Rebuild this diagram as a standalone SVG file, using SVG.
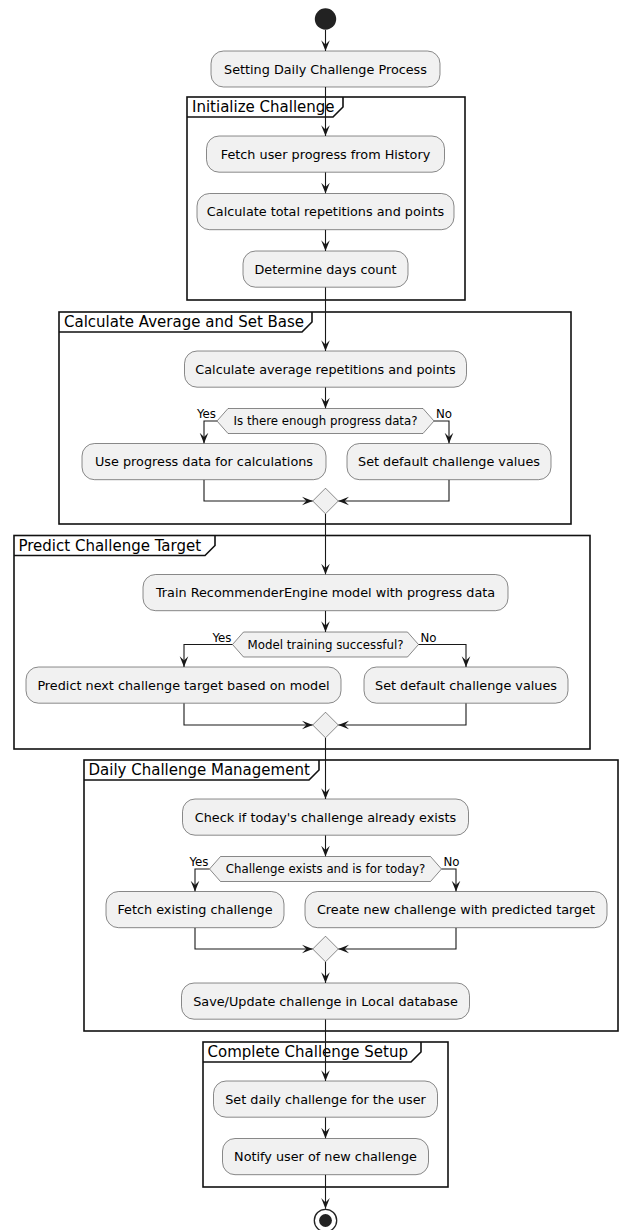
<svg xmlns="http://www.w3.org/2000/svg" width="619" height="1230" viewBox="0 0 619 1230">
<style>
.box{fill:#F1F1F1;stroke:#181818;stroke-width:0.5}
.hex{fill:#F1F1F1;stroke:#181818;stroke-width:0.5}
.frame{fill:none;stroke:#111;stroke-width:1.6}
.t{font-family:"DejaVu Sans",sans-serif;font-size:12.8px;fill:#000;text-anchor:middle}
.dt{font-family:"DejaVu Sans",sans-serif;font-size:11.8px;fill:#000;text-anchor:middle}
.lbl{font-family:"DejaVu Sans",sans-serif;font-size:11.8px;fill:#000}
.ft{font-family:"DejaVu Sans",sans-serif;font-size:15px;fill:#000}
.c{fill:none;stroke:#181818;stroke-width:1.1;marker-end:url(#ah)}
</style>
<defs>
<marker id="ah" markerUnits="userSpaceOnUse" viewBox="-11 -5 12 10" refX="0" refY="0" markerWidth="12" markerHeight="10" orient="auto">
<path d="M0,0 L-10.7,-4.3 L-6.4,0 L-10.7,4.3 Z" fill="#181818"/>
</marker>
</defs>

<g id="frames">
<g id="p1"><rect class="frame" x="187" y="97" width="278" height="203"/><path class="frame" d="M187,117 H333 L343,107 V97"/><text class="ft" x="192" y="112">Initialize Challenge</text></g>
<g id="p2"><rect class="frame" x="59" y="312" width="512" height="212"/><path class="frame" d="M59,332 H302 L312,322 V312"/><text class="ft" x="64" y="327">Calculate Average and Set Base</text></g>
<g id="p3"><rect class="frame" x="14" y="535.5" width="576" height="213.5"/><path class="frame" d="M14,555.5 H205 L215,545.5 V535.5"/><text class="ft" x="18.5" y="550.5">Predict Challenge Target</text></g>
<g id="p4"><rect class="frame" x="84" y="760" width="534" height="271"/><path class="frame" d="M84,780 H309 L319,770 V760"/><text class="ft" x="88.5" y="775">Daily Challenge Management</text></g>
<g id="p5"><rect class="frame" x="203" y="1042" width="245" height="145"/><path class="frame" d="M203,1062 H411 L421,1052 V1042"/><text class="ft" x="207.5" y="1057">Complete Challenge Setup</text></g>
</g>

<g id="connectors">
<path class="c" d="M325.5,30 V51"/>
<path class="c" d="M325.5,87 V136"/>
<path class="c" d="M325.5,172.2 V193.5"/>
<path class="c" d="M325.5,229.7 V251"/>
<path class="c" d="M325.5,287.2 V351"/>
<path class="c" d="M325.5,387.2 V408.5"/>
<path class="c" d="M217,421 H204 V443.5"/>
<path class="c" d="M434,421 H449 V443.5"/>
<path class="c" d="M204,479.7 V501 H312.7"/>
<path class="c" d="M449,479.7 V501 H338.3"/>
<path class="c" d="M325.5,513.8 V574.5"/>
<path class="c" d="M325.5,610.7 V632"/>
<path class="c" d="M232.5,644.5 H184 V667"/>
<path class="c" d="M418.5,644.5 H466 V667"/>
<path class="c" d="M184,703.2 V725 H312.7"/>
<path class="c" d="M466,703.2 V725 H338.3"/>
<path class="c" d="M325.5,737.8 V799"/>
<path class="c" d="M325.5,835.2 V856.5"/>
<path class="c" d="M209.5,869 H195 V891.5"/>
<path class="c" d="M441.5,869 H456 V891.5"/>
<path class="c" d="M195,927.7 V949 H312.7"/>
<path class="c" d="M456,927.7 V949 H338.3"/>
<path class="c" d="M325.5,961.8 V983"/>
<path class="c" d="M325.5,1019.2 V1081"/>
<path class="c" d="M325.5,1117.2 V1138.5"/>
<path class="c" d="M325.5,1174.7 V1208.8"/>
</g>

<g id="start"><circle cx="325.5" cy="19" r="10.7" fill="#222"/></g>
<g id="n_setting"><rect class="box" x="211" y="51" width="229" height="36" rx="12.5"/><text class="t" x="325.5" y="73.5">Setting Daily Challenge Process</text></g>
<g id="n_fetch"><rect class="box" x="206.5" y="136" width="238" height="36.2" rx="12.5"/><text class="t" x="325.5" y="158.5">Fetch user progress from History</text></g>
<g id="n_total"><rect class="box" x="197" y="193.5" width="257" height="36.2" rx="12.5"/><text class="t" x="325.5" y="216">Calculate total repetitions and points</text></g>
<g id="n_days"><rect class="box" x="243" y="251" width="165" height="36.2" rx="12.5"/><text class="t" x="325.5" y="273.5">Determine days count</text></g>

<g id="n_avg"><rect class="box" x="184.5" y="351" width="282" height="36.2" rx="12.5"/><text class="t" x="325.5" y="373.5">Calculate average repetitions and points</text></g>
<g id="d1"><polygon class="hex" points="217,421 228,408.5 423,408.5 434,421 423,433.5 228,433.5"/><text class="dt" x="325.5" y="425">Is there enough progress data?</text><text class="lbl" x="216" y="418" text-anchor="end">Yes</text><text class="lbl" x="436" y="418">No</text></g>
<g id="n_use"><rect class="box" x="82" y="443.5" width="244" height="36.2" rx="12.5"/><text class="t" x="204" y="466">Use progress data for calculations</text></g>
<g id="n_def1"><rect class="box" x="347" y="443.5" width="204" height="36.2" rx="12.5"/><text class="t" x="449" y="466">Set default challenge values</text></g>
<g id="m1"><polygon class="hex" points="325.5,488.2 338.3,501 325.5,513.8 312.7,501"/></g>

<g id="n_train"><rect class="box" x="143" y="574.5" width="365" height="36.2" rx="12.5"/><text class="t" x="325.5" y="597">Train RecommenderEngine model with progress data</text></g>
<g id="d2"><polygon class="hex" points="232.5,644.5 243.5,632 407.5,632 418.5,644.5 407.5,657 243.5,657"/><text class="dt" x="325.5" y="648.5">Model training successful?</text><text class="lbl" x="231.5" y="641.5" text-anchor="end">Yes</text><text class="lbl" x="420.5" y="641.5">No</text></g>
<g id="n_predict"><rect class="box" x="26" y="667" width="315" height="36.2" rx="12.5"/><text class="t" x="183.5" y="689.5">Predict next challenge target based on model</text></g>
<g id="n_def2"><rect class="box" x="364" y="667" width="204" height="36.2" rx="12.5"/><text class="t" x="466" y="689.5">Set default challenge values</text></g>
<g id="m2"><polygon class="hex" points="325.5,712.2 338.3,725 325.5,737.8 312.7,725"/></g>

<g id="n_check"><rect class="box" x="182.5" y="799" width="286" height="36.2" rx="12.5"/><text class="t" x="325.5" y="821.5">Check if today's challenge already exists</text></g>
<g id="d3"><polygon class="hex" points="209.5,869 220.5,856.5 430.5,856.5 441.5,869 430.5,881.5 220.5,881.5"/><text class="dt" x="325.5" y="873">Challenge exists and is for today?</text><text class="lbl" x="208.5" y="866" text-anchor="end">Yes</text><text class="lbl" x="443.5" y="866">No</text></g>
<g id="n_existing"><rect class="box" x="106" y="891.5" width="178" height="36.2" rx="12.5"/><text class="t" x="195" y="914">Fetch existing challenge</text></g>
<g id="n_create"><rect class="box" x="305" y="891.5" width="302" height="36.2" rx="12.5"/><text class="t" x="456" y="914">Create new challenge with predicted target</text></g>
<g id="m3"><polygon class="hex" points="325.5,936.2 338.3,949 325.5,961.8 312.7,949"/></g>
<g id="n_save"><rect class="box" x="181.5" y="983" width="288" height="36.2" rx="12.5"/><text class="t" x="325.5" y="1005.5">Save/Update challenge in Local database</text></g>

<g id="n_setdaily"><rect class="box" x="213.5" y="1081" width="224" height="36.2" rx="12.5"/><text class="t" x="325.5" y="1103.5">Set daily challenge for the user</text></g>
<g id="n_notify"><rect class="box" x="222.5" y="1138.5" width="206" height="36.2" rx="12.5"/><text class="t" x="325.5" y="1161">Notify user of new challenge</text></g>
<g id="end"><circle cx="325.5" cy="1220.5" r="11.2" fill="none" stroke="#222" stroke-width="1.3"/><circle cx="325.5" cy="1220.5" r="6.4" fill="#222"/></g>
</svg>
